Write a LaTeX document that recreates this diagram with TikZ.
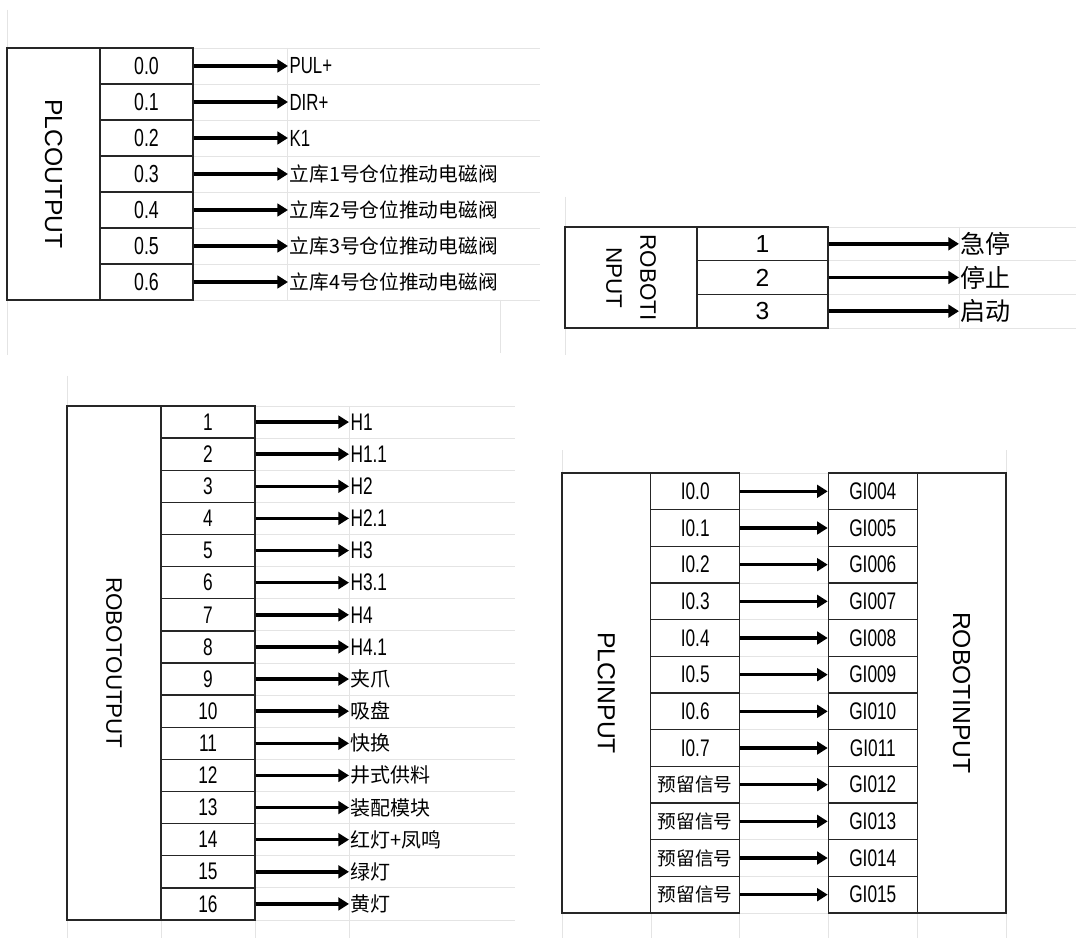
\documentclass[tikz,border=0pt]{standalone}
\usepackage{fontspec}
\setmainfont{Liberation Sans}
\newfontfamily\cjk{Noto Sans CJK SC}
\newfontfamily\narrow[FakeStretch=0.72]{Liberation Sans}
\usetikzlibrary{arrows.meta}
\definecolor{gridgray}{HTML}{E4E4E4}
\definecolor{rulegray}{HTML}{262626}
\newcommand{\zh}[1]{{\cjk\fontsize{\zhpt}{\zhpt}\selectfont #1}}
\def\zhpt{16}

\begin{document}
\begin{tikzpicture}[x=0.75pt, y=-0.75pt,
    box/.style={draw=rulegray, line width=1pt, inner sep=0pt, align=center},
    side/.style={box, rotate=-90, font=\fontsize{18.5}{25.5}\selectfont},
    sig/.style={line width=2.6pt, -{Triangle[length=8pt, width=9.5pt]}},
    tag/.style={anchor=west, inner sep=1pt, font=\narrow\fontsize{18}{20}\selectfont},
    faint/.style={draw=gridgray, line width=0.6pt}
]
\fill[white] (0,0) rectangle (1076,938);
\useasboundingbox (0,0) rectangle (1076,938);

% sheet grid behind the tables
\draw[faint] (7,10) -- (7,355);
\draw[faint] (500,300) -- (500,353);
\foreach \y in {48,84,...,300} \draw[faint] (193,\y) -- (540,\y);
\draw[faint] (287,48) -- (287,300);
\draw[faint] (565,197) -- (565,355);
\foreach \y in {227,260.67,294.33,328} \draw[faint] (828,\y) -- (1076,\y);
\draw[faint] (959,227) -- (959,328);
\draw[faint] (67,376) -- (67,938);
\foreach \i in {0,...,16} \draw[faint] (255,406+32.125*\i) -- (515,406+32.125*\i);
\draw[faint] (349,406) -- (349,938);
\foreach \x in {161,255} \draw[faint] (\x,920) -- (\x,938);
\draw[faint] (562,450) -- (562,938);
\draw[faint] (1006,450) -- (1006,938);
\foreach \i in {0,...,12} \draw[faint] (739,473+36.67*\i) -- (828,473+36.67*\i);
\foreach \x in {651,739,828,917} \draw[faint] (\x,913) -- (\x,938);

% PLC outputs
\node[side, minimum width=189pt, minimum height=69.75pt] (plcout) at (53.5,174) {PLCOUTPUT};
\def\zhpt{14.8}
\foreach \pin/\dev [count=\i from 0] in {0.0/PUL+, 0.1/DIR+, 0.2/K1,
    0.3/\zh{立库1号仓位推动电磁阀}, 0.4/\zh{立库2号仓位推动电磁阀},
    0.5/\zh{立库3号仓位推动电磁阀}, 0.6/\zh{立库4号仓位推动电磁阀}}{
  \node[box, minimum width=69.75pt, minimum height=27pt,
        font=\narrow\fontsize{18.5}{20}\selectfont] (po\i) at (146.5,66+36*\i) {\pin};
  \node[tag, font=\narrow\fontsize{17.5}{20}\selectfont] (pd\i) at (288,66+36*\i) {\dev};
  \draw[sig] (po\i.east) -- (pd\i.west);
}

% robot inputs
\node[side, minimum width=75.75pt, minimum height=99pt,
      font=\fontsize{16.8}{25.5}\selectfont] (robin) at (631,277.5) {ROBOTI\\NPUT};
\def\zhpt{18.8}
\foreach \pin/\dev [count=\i from 0] in {1/急停, 2/停止, 3/启动}{
  \node[box, minimum width=98.25pt, minimum height=25.25pt,
        font=\fontsize{18.5}{20}\selectfont] (ri\i) at (762.5,243.83+33.67*\i) {\pin};
  \node[tag] (rd\i) at (959,243.83+33.67*\i) {\zh{\dev}};
  \draw[sig] (ri\i.east) -- (rd\i.west);
}

% robot outputs
\node[side, minimum width=385.5pt, minimum height=70.5pt,
      font=\fontsize{16.8}{20}\selectfont] (robout) at (114,663) {ROBOTOUTPUT};
\def\zhpt{15}
\foreach \dev [count=\i] in {H1, H1.1, H2, H2.1, H3, H3.1, H4, H4.1,
    \zh{夹爪}, \zh{吸盘}, \zh{快换}, \zh{井式供料}, \zh{装配模块},
    \zh{红灯+凤鸣}, \zh{绿灯}, \zh{黄灯}}{
  \node[box, minimum width=70.5pt, minimum height=24.09pt,
        font=\narrow\fontsize{18}{20}\selectfont] (ro\i) at (208,389.94+32.125*\i) {\i};
  \node[tag] (od\i) at (349,389.94+32.125*\i) {\dev};
  \draw[sig] (ro\i.east) -- (od\i.west);
}

% PLC inputs to robot inputs
\node[side, minimum width=330pt, minimum height=66.6pt] (plcin) at (606.4,693) {PLCINPUT};
\node[side, minimum width=330pt, minimum height=66.6pt] (robotin) at (961.6,693) {ROBOTINPUT};
\def\zhpt{14}
\foreach \pin/\gi [count=\i from 0] in {I0.0/GI004, I0.1/GI005, I0.2/GI006, I0.3/GI007,
    I0.4/GI008, I0.5/GI009, I0.6/GI010, I0.7/GI011,
    \zh{预留信号}/GI012, \zh{预留信号}/GI013, \zh{预留信号}/GI014, \zh{预留信号}/GI015}{
  \node[box, minimum width=66.6pt, minimum height=27.5pt,
        font=\narrow\fontsize{18}{20}\selectfont] (pi\i) at (695.2,491.33+36.67*\i) {\pin};
  \node[box, minimum width=66.6pt, minimum height=27.5pt,
        font=\narrow\fontsize{18}{20}\selectfont] (gi\i) at (872.8,491.33+36.67*\i) {\gi};
  \draw[sig] (pi\i.east) -- (gi\i.west);
}
\end{tikzpicture}
\end{document}
